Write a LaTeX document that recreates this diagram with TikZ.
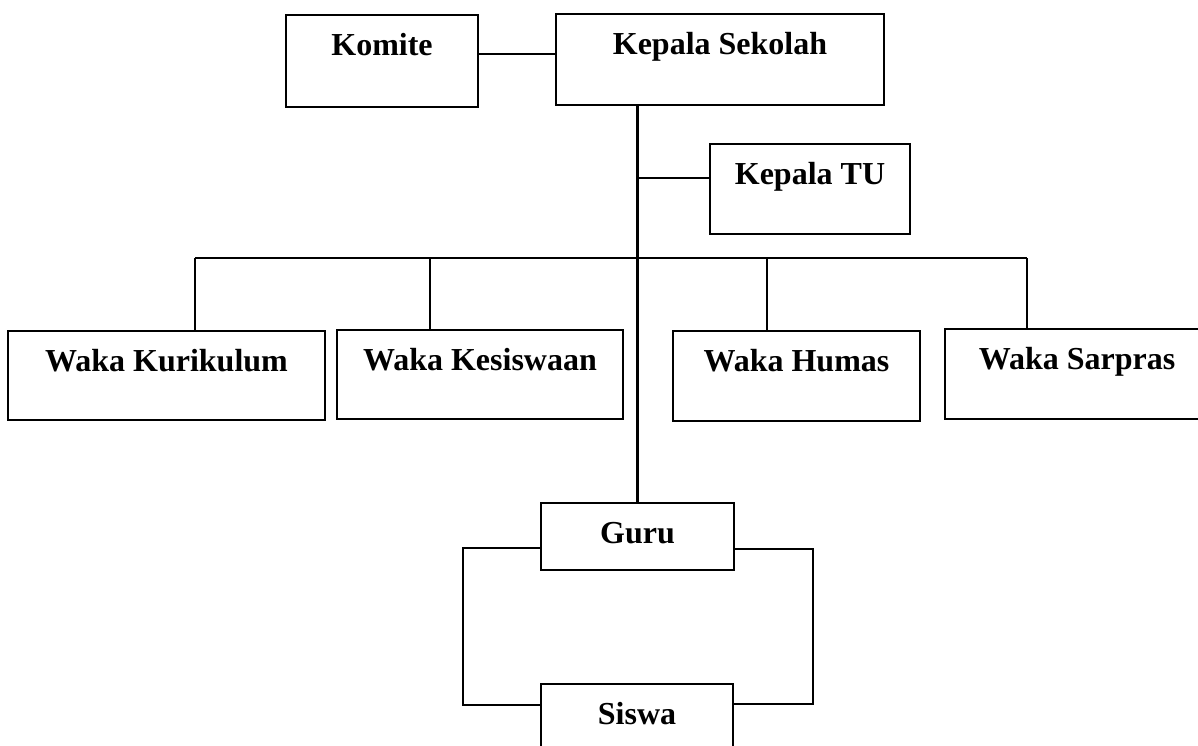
\documentclass[tikz,border=0pt]{standalone}
\usepackage{fontspec}
\setmainfont{Liberation Serif}
\usepackage{tikz}
\usetikzlibrary{positioning}
\tikzset{
  orgbox/.style={draw, line width=2.4pt, inner xsep=0pt, inner ysep=0pt, anchor=north, text height=40pt, text depth=50pt, align=center},
  linkline/.style={line width=2.2pt}
}

\begin{document}
\begin{tikzpicture}[x=1pt, y=-1pt, every node/.style={font=\fontsize{32pt}{38pt}\selectfont\bfseries}]
  \clip (0,0) rectangle (1198,746);
  \fill[white] (0,0) rectangle (1198,746);
  % top row
  \node[orgbox, minimum width=192pt, text depth=52pt] (komite) at (382,14) {Komite};
  \node[orgbox, minimum width=328pt, text depth=51pt] (kepsek) at (720,13) {Kepala Sekolah};
  \node[orgbox, minimum width=200pt] (kepalatu) at (810,143) {Kepala TU};
  % wakil kepala
  \node[orgbox, minimum width=317pt, text depth=49pt] (kurikulum) at (166.5,330) {Waka Kurikulum};
  \node[orgbox, minimum width=286pt, text depth=49pt] (kesiswaan) at (480,329) {Waka Kesiswaan};
  \node[orgbox, minimum width=247pt] (humas) at (796.5,330) {Waka Humas};
  \node[orgbox, minimum width=264pt] (sarpras) at (1077,328) {Waka Sarpras};
  % bottom
  \node[orgbox, minimum width=193pt, text depth=27pt] (guru) at (637.5,502) {Guru};
  \node[orgbox, minimum width=192pt] (siswa) at (637,683) {Siswa};
  \coordinate (bus) at (0,258);
  \draw[linkline] (komite.east |- 0,54) -- (kepsek.west |- 0,54);
  \draw[linkline] (guru.north |- kepsek.south) -- (guru.north);
  \draw[linkline] (guru.north |- 0,178) -- (kepalatu.west |- 0,178);
  \draw[linkline] (195,0 |- bus) -- (1027,0 |- bus);
  \foreach \n/\x in {kurikulum/195, kesiswaan/430, humas/767, sarpras/1027}
    \draw[linkline] (\x,0 |- bus) -- (\x,0 |- \n.north);
  \draw[linkline] (guru.west |- 0,548) -- (463,548) -- (463,705) -- (siswa.west |- 0,705);
  \draw[linkline] (guru.east |- 0,549) -- (813,549) -- (813,704) -- (siswa.east |- 0,704);
\end{tikzpicture}
\end{document}
